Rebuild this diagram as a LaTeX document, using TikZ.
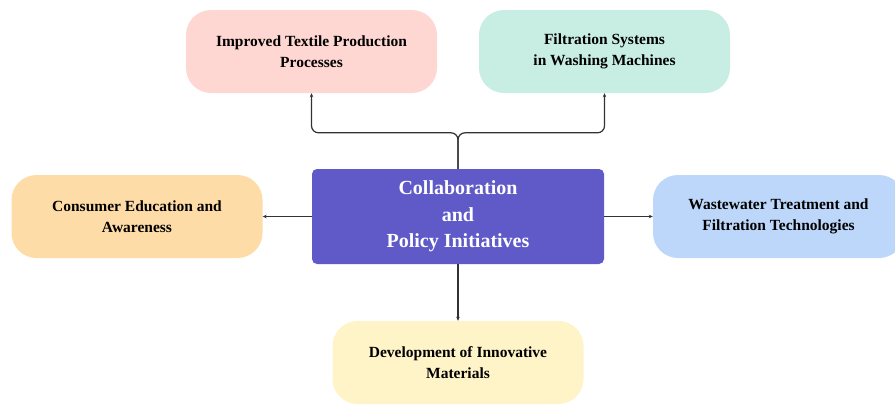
\documentclass[tikz,border=0pt]{standalone}
\usepackage{fontspec}
\setmainfont{Liberation Serif}
\definecolor{fiberPink}{RGB}{254, 214, 210}
\definecolor{fiberMint}{RGB}{200, 237, 226}
\definecolor{fiberIndigo}{RGB}{95, 90, 200}
\definecolor{fiberOrange}{RGB}{254, 220, 168}
\definecolor{fiberBlue}{RGB}{189, 215, 250}
\definecolor{fiberYellow}{RGB}{255, 243, 200}
\definecolor{linkGray}{RGB}{50, 50, 50}
\usetikzlibrary{arrows.meta, positioning, calc}

\tikzset{
  measure/.style={rounded corners=25pt, minimum width=251pt, minimum height=83pt,
    align=center, text=black, font=\bfseries\fontsize{15.5}{21}\selectfont},
  hub/.style={rounded corners=5pt, fill=fiberIndigo, minimum width=292pt, minimum height=95pt,
    align=center, text=white, font=\bfseries\fontsize{20}{26.5}\selectfont},
  link/.style={draw=linkGray, line width=1.2pt, -{Stealth[length=4pt, width=3.5pt]}}
}

\begin{document}
\begin{tikzpicture}[x=1pt, y=-1pt]
    \useasboundingbox (0,0) rectangle (895,405);

    % Centre
    \node[hub] (policy) at (458, 216.5) {Collaboration\\and\\Policy Initiatives};

    % Measures round the centre
    \node[measure, fill=fiberPink] (textile) at (311.5, 51.5) {Improved Textile Production\\Processes};
    \node[measure, fill=fiberMint] (filter) at (604.5, 51.5) {Filtration Systems\\in Washing Machines};
    \node[measure, fill=fiberOrange] (consumer) at (137, 216.5) {Consumer Education and\\Awareness};
    \node[measure, fill=fiberBlue] (wastewater) at (778.5, 216.5) {Wastewater Treatment and\\Filtration Technologies};
    \node[measure, fill=fiberYellow] (materials) at (458, 362.5) {Development of Innovative\\Materials};

    % Connectors
    \coordinate (fork) at ($(policy.north)+(0,-36)$);
    \draw[link, rounded corners=7pt] (policy.north) |- (fork -| textile.south) -- (textile.south);
    \draw[link, rounded corners=7pt] (policy.north) |- (fork -| filter.south) -- (filter.south);
    \draw[link] (policy.west) -- (consumer.east);
    \draw[link] (policy.east) -- (wastewater.west);
    \draw[link] (policy.south) -- (materials.north);
  \end{tikzpicture}
\end{document}
